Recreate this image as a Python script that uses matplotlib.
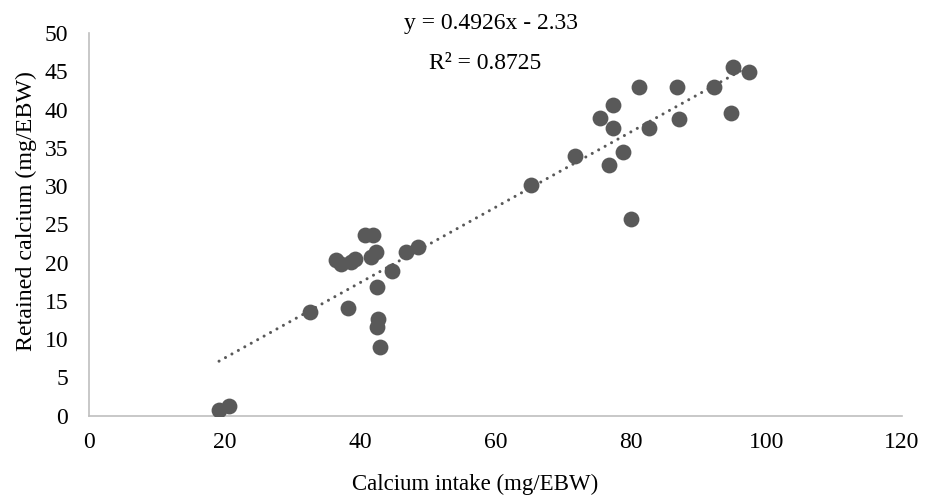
import matplotlib
matplotlib.use("Agg")
import matplotlib.pyplot as plt
import numpy as np

calcium_intake = [19.2, 20.7, 32.6, 36.4, 37.2, 38.2, 38.7, 39.3, 40.7, 41.9,
                  41.7, 42.4, 42.5, 42.7, 42.5, 43.0, 44.8, 46.8, 48.6,
                  65.3, 71.8, 75.4, 76.8, 77.3, 77.3, 78.8, 80.0, 81.2,
                  82.7, 86.8, 87.1, 92.2, 94.8, 95.0, 97.5]
retained_calcium = [0.8, 1.3, 13.5, 20.3, 19.8, 14.1, 20.1, 20.5, 23.6, 23.6,
                    20.7, 21.4, 16.8, 12.6, 11.6, 9.0, 18.9, 21.4, 22.0,
                    30.2, 33.9, 38.9, 32.8, 40.6, 37.6, 34.4, 25.7, 42.9,
                    37.6, 43.0, 38.8, 43.0, 39.5, 45.6, 44.9]
slope, intercept = 0.4926, -2.33
r_squared = 0.8725

plt.rcParams['font.family'] = ['Liberation Serif', 'DejaVu Serif']

fig = plt.figure(figsize=(9.25, 4.99), dpi=100)
ax = fig.add_axes([0.0962, 0.1669, 0.975 - 0.0962, 0.9339 - 0.1669])

col = '#595959'
ax.scatter(calcium_intake, retained_calcium, s=130, color=col, zorder=3, linewidths=0)

xs = np.array([min(calcium_intake), max(calcium_intake)])
ax.plot(xs, slope * xs + intercept, linestyle=(0, (0.01, 2.4)), color=col, lw=2.2,
        dash_capstyle='round', zorder=2)

ax.set_xlim(0, 120)
ax.set_ylim(0, 50)
ax.set_xticks(range(0, 121, 20))
ax.set_yticks(range(0, 51, 5))
ax.tick_params(axis='both', length=0, labelsize=17, colors='black')
ax.tick_params(axis='y', pad=15)
ax.tick_params(axis='x', pad=12)
for s in ['top', 'right']:
    ax.spines[s].set_visible(False)
for s in ['left', 'bottom']:
    ax.spines[s].set_color('#bfbfbf')
    ax.spines[s].set_linewidth(1.2)

ax.set_xlabel('Calcium intake (mg/EBW)', fontsize=16.5, va='center')
ax.xaxis.set_label_coords(0.475, -0.180)
ax.set_ylabel('Retained calcium (mg/EBW)', fontsize=17.3, va='center')
ax.yaxis.set_label_coords(-0.0775, 0.535)

ax.text(59.3, 51.2, f'y = {slope}x - {abs(intercept)}', fontsize=17, ha='center', va='center', clip_on=False)
ax.text(58.5, 46.0, f'R² = {r_squared}', fontsize=17, ha='center', va='center', clip_on=False)

fig.savefig('out.png', dpi=100)
